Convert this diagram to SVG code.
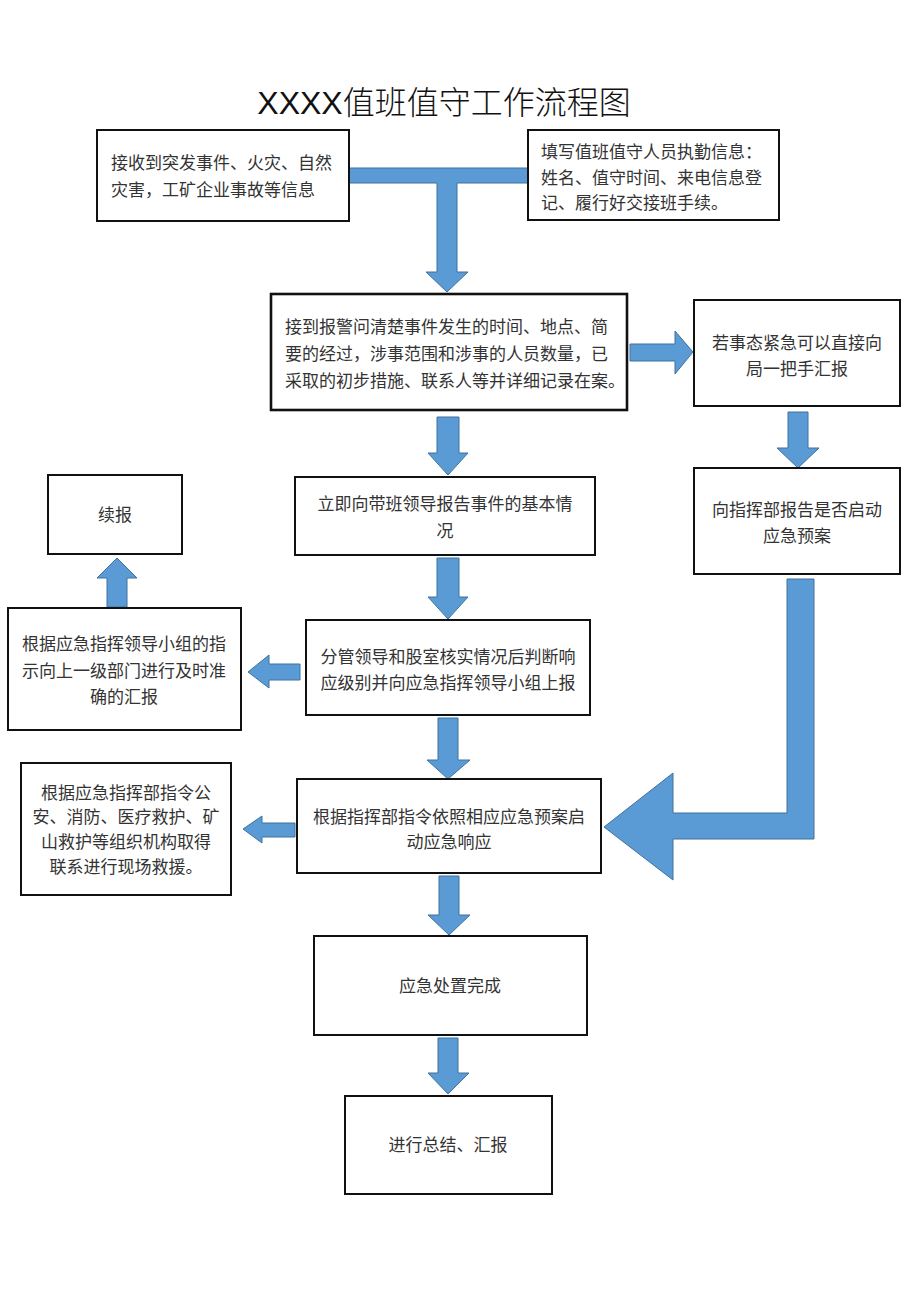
<svg xmlns="http://www.w3.org/2000/svg" width="920" height="1301" viewBox="0 0 920 1301">
<style>
.box{fill:#fff;stroke:#111;stroke-width:2}
.thick{stroke-width:2.6}
.t{font-family:"Liberation Serif","Noto Sans CJK SC",serif;font-size:17px;fill:#333}
.c{text-anchor:middle}
.arr{fill:#5B9BD5;stroke:#41719C;stroke-width:1}
.title{font-family:"Liberation Sans","Noto Sans CJK SC",sans-serif;font-size:32px;font-weight:300;fill:#111;text-anchor:middle}
</style>
<rect width="920" height="1301" fill="#fff"/>
<text class="title" x="444" y="114">XXXX值班值守工作流程图</text>

<g id="connectors">
<polygon class="arr" points="349,168 528,168 528,183 457,183 457,272 468,272 447,292 426,272 437,272 437,183 349,183"/>
<polygon class="arr" points="630,344 675,344 675,331 693,352 675,374 675,361 630,361"/>
<polygon class="arr" points="788,412 808,412 808,448 819,448 798,468 777,448 788,448"/>
<polygon class="arr" points="787,579 814,579 814,839 673,839 673,880 604,827 673,773 673,813 787,813"/>
<polygon class="arr" points="437,417 459,417 459,453 468,453 448,475 428,453 437,453"/>
<polygon class="arr" points="437,558 459,558 459,597 468,597 448,619 428,597 437,597"/>
<polygon class="arr" points="438,718 458,718 458,760 470,760 448,779 427,760 438,760"/>
<polygon class="arr" points="439,876 459,876 459,915 470,915 449,935 428,915 439,915"/>
<polygon class="arr" points="438,1038 458,1038 458,1073 469,1073 448,1094 428,1073 438,1073"/>
<polygon class="arr" points="107,607 127,607 127,578 137,578 117,558 97,578 107,578"/>
<polygon class="arr" points="300,664 269,664 269,655 248,672 269,688 269,680 300,680"/>
<polygon class="arr" points="295,823 262,823 262,816 243,829 262,843 262,837 295,837"/>
</g>

<g id="n1">
<rect class="box" x="97" y="130" width="252" height="91"/>
<text class="t" x="111" y="169">接收到突发事件、火灾、自然</text>
<text class="t" x="111" y="196">灾害，工矿企业事故等信息</text>
</g>
<g id="n2">
<rect class="box" x="528" y="130" width="251" height="90"/>
<text class="t" x="541" y="158">填写值班值守人员执勤信息：</text>
<text class="t" x="541" y="184">姓名、值守时间、来电信息登</text>
<text class="t" x="541" y="209">记、履行好交接班手续。</text>
</g>
<g id="n3">
<rect class="box thick" x="271" y="294" width="356" height="116"/>
<text class="t" x="285" y="333">接到报警问清楚事件发生的时间、地点、简</text>
<text class="t" x="285" y="360">要的经过，涉事范围和涉事的人员数量，已</text>
<text class="t" x="285" y="387">采取的初步措施、联系人等并详细记录在案。</text>
</g>
<g id="n4">
<rect class="box" x="694" y="300" width="206" height="106"/>
<text class="t c" x="797" y="349">若事态紧急可以直接向</text>
<text class="t c" x="797" y="375">局一把手汇报</text>
</g>
<g id="n5">
<rect class="box" x="694" y="468" width="206" height="106"/>
<text class="t c" x="797" y="516">向指挥部报告是否启动</text>
<text class="t c" x="797" y="542">应急预案</text>
</g>
<g id="n6">
<rect class="box" x="295" y="477" width="300" height="78"/>
<text class="t c" x="445" y="510">立即向带班领导报告事件的基本情</text>
<text class="t c" x="445" y="537">况</text>
</g>
<g id="n7">
<rect class="box" x="306" y="620" width="284" height="95"/>
<text class="t c" x="448" y="663">分管领导和股室核实情况后判断响</text>
<text class="t c" x="448" y="689">应级别并向应急指挥领导小组上报</text>
</g>
<g id="n8">
<rect class="box" x="297" y="779" width="304" height="94"/>
<text class="t c" x="449" y="823">根据指挥部指令依照相应应急预案启</text>
<text class="t c" x="449" y="848">动应急响应</text>
</g>
<g id="n9">
<rect class="box" x="314" y="936" width="273" height="99"/>
<text class="t c" x="450" y="992">应急处置完成</text>
</g>
<g id="n10">
<rect class="box" x="345" y="1096" width="207" height="98"/>
<text class="t c" x="448" y="1151">进行总结、汇报</text>
</g>
<g id="n11">
<rect class="box" x="48" y="475" width="134" height="79"/>
<text class="t c" x="115" y="521">续报</text>
</g>
<g id="n12">
<rect class="box" x="8" y="608" width="233" height="122"/>
<text class="t c" x="124" y="650">根据应急指挥领导小组的指</text>
<text class="t c" x="124" y="677">示向上一级部门进行及时准</text>
<text class="t c" x="124" y="703">确的汇报</text>
</g>
<g id="n13">
<rect class="box" x="21" y="763" width="210" height="132"/>
<text class="t c" x="126" y="799">根据应急指挥部指令公</text>
<text class="t c" x="126" y="823">安、消防、医疗救护、矿</text>
<text class="t c" x="126" y="848">山救护等组织机构取得</text>
<text class="t c" x="126" y="873">联系进行现场救援。</text>
</g>
</svg>
